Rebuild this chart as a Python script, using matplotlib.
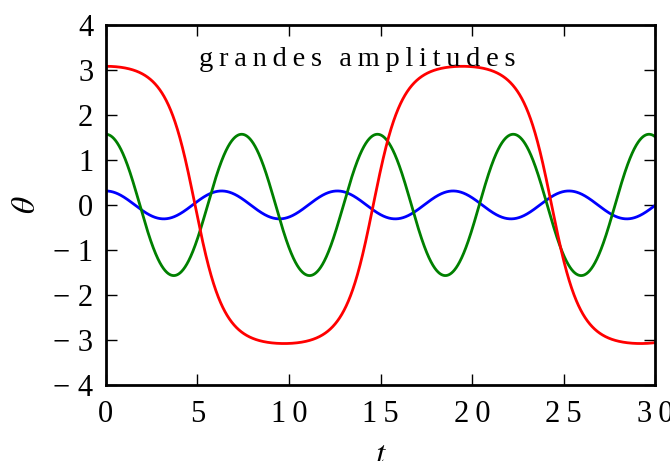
import numpy as np
import matplotlib
matplotlib.use("Agg")
import matplotlib.pyplot as plt

plt.rcParams['font.family'] = ['Liberation Serif', 'DejaVu Serif']
plt.rcParams['mathtext.fontset'] = 'stix'

# initial angles (rad) of the three pendulums, released at rest
amplitudes = [0.31, 1.57, 3.08]
colors = ['b', 'g', 'r']
t_end = 30.0

x_ticks = [0, 5, 10, 15, 20, 25, 30]
y_ticks = [-4, -3, -2, -1, 0, 1, 2, 3, 4]
title_text = "grandes amplitudes"


def spaced(s, sep="\u2009"):
    return sep.join(s)


def tick_label(v):
    if v < 0:
        return "\u2212 " + spaced(str(-v))
    return spaced(str(v))


def pendulum(theta0, t):
    # RK4 integration of theta'' = -sin(theta)
    dt = t[1] - t[0]
    y = np.array([theta0, 0.0])
    out = np.empty(len(t))
    f = lambda s: np.array([s[1], -np.sin(s[0])])
    for i in range(len(t)):
        out[i] = y[0]
        k1 = f(y)
        k2 = f(y + dt / 2 * k1)
        k3 = f(y + dt / 2 * k2)
        k4 = f(y + dt * k3)
        y = y + dt / 6 * (k1 + 2 * k2 + 2 * k3 + k4)
    return out


t = np.linspace(0, t_end, 3001)

fig = plt.figure(figsize=(6.7, 4.61), dpi=100)
ax = fig.add_axes([0.158, 0.165, 0.820, 0.781])

for a, c in zip(amplitudes, colors):
    ax.plot(t, pendulum(a, t), color=c, lw=2)

ax.set_xlim(0, 30)
ax.set_ylim(-4, 4)
ax.set_xticks(x_ticks)
ax.set_xticklabels([tick_label(v) for v in x_ticks])
ax.set_yticks(y_ticks)
ax.set_yticklabels([tick_label(v) for v in y_ticks])
ax.tick_params(direction='in', length=8, width=1, labelsize=22,
               top=True, right=True)
ax.tick_params(axis='x', pad=11)
ax.tick_params(axis='y', pad=9)
for sp in ax.spines.values():
    sp.set_linewidth(2)

ax.set_xlabel(r"$t$", fontsize=24, labelpad=8)
ax.set_ylabel(r"$\theta$", fontsize=24, labelpad=8)

title = "\u2009\u2009\u2009".join(spaced(w) for w in title_text.split())
ax.text(13.7, 3.22, title, ha='center', va='center', fontsize=20.5)

fig.savefig("out.png", dpi=100)
